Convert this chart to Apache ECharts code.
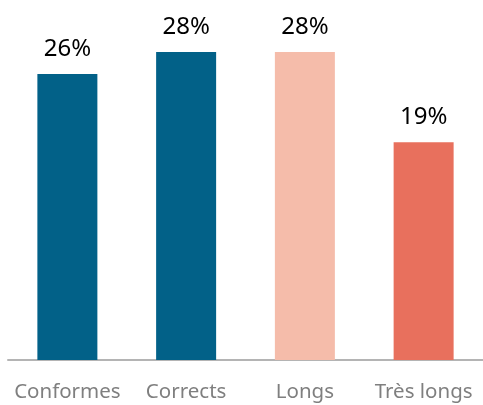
<!DOCTYPE html>
<html>
<head>
<meta charset="utf-8">
<style>
  html, body { margin: 0; padding: 0; background: #fff; }
  #chart { width: 483px; height: 405px; }
</style>
<script src="https://cdn.jsdelivr.net/npm/echarts@6/dist/echarts.min.js"></script>
</head>
<body>
<div id="chart"></div>
<script>
const categories = ['Conformes', 'Corrects', 'Longs', 'Très longs'];
const values = [26, 28, 28, 19.8];
const valueLabels = ['26%', '28%', '28%', '19%'];
const barColors = ['#026188', '#026188', '#f5bcaa', '#e8705d'];

const chart = echarts.init(document.getElementById('chart'), null, { renderer: 'canvas' });

chart.setOption({
  animation: false,
  textStyle: { fontFamily: 'Noto Sans' },
  grid: { left: 8, right: -5, top: 30, bottom: 45, containLabel: false },
  xAxis: {
    type: 'category',
    data: categories,
    axisLine: { lineStyle: { color: '#b4b4b4', width: 2 } },
    axisTick: { show: false },
    axisLabel: { color: '#7f7f7f', fontSize: 20.5, margin: 22, interval: 0 }
  },
  yAxis: {
    type: 'value',
    min: 0,
    max: 30,
    show: false,
    splitLine: { show: false }
  },
  series: [{
    type: 'bar',
    barWidth: 60,
    data: values.map((v, i) => ({ value: v, itemStyle: { color: barColors[i] } })),
    label: {
      show: true,
      position: 'top',
      distance: 13,
      color: '#000',
      fontSize: 24,
      formatter: p => valueLabels[p.dataIndex]
    }
  }]
});
</script>
</body>
</html>
